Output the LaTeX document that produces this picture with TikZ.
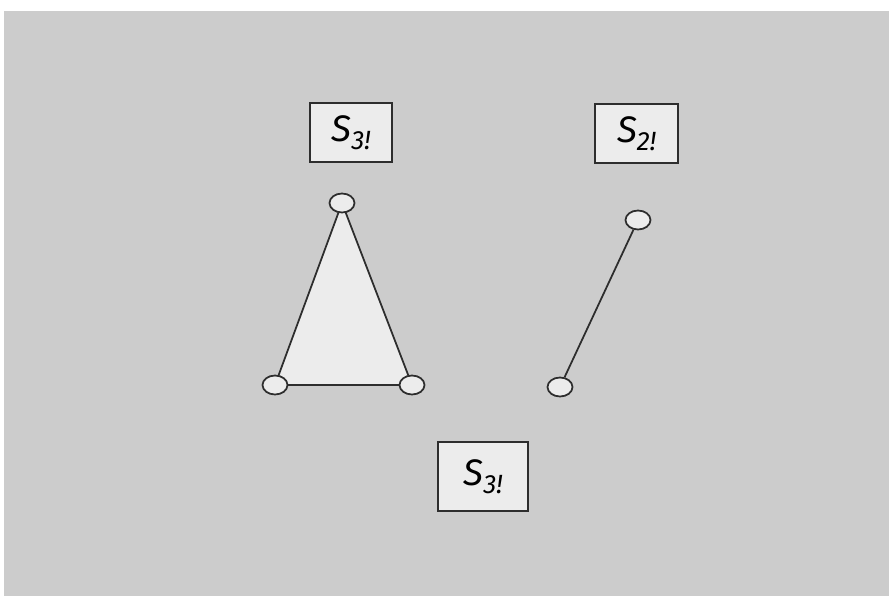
\documentclass[tikz,border=0pt]{standalone}
\usepackage{fontspec}
\setmainfont{Fira Sans}
\usetikzlibrary{shapes.geometric}
\definecolor{paper}{RGB}{204,204,204}
\definecolor{pale}{RGB}{236,236,236}
\definecolor{ink}{RGB}{45,45,45}
\newcommand{\symgrp}[1]{S\raisebox{-0.4ex}{\fontsize{15}{17}\selectfont #1}}
\begin{document}
\begin{tikzpicture}[x=0.02cm, y=-0.02cm,
  lbl/.style={draw=ink, line width=1pt, fill=pale, inner sep=0pt, font=\fontsize{21}{24}\selectfont\itshape},
  vtx/.style={draw=ink, line width=1pt, fill=pale, ellipse, minimum width=0.50cm, minimum height=0.38cm, inner sep=0pt},
  edge/.style={draw=ink, line width=1pt}]
\useasboundingbox (0,0) rectangle (889,599);
\fill[paper] (4,11) rectangle (889,596);
% labels
\node[lbl, minimum width=1.64cm, minimum height=1.18cm] (tri) at (351,132.5) {\symgrp{3!}};
\node[lbl, minimum width=1.66cm, minimum height=1.18cm] (seg) at (636.5,133.5) {\symgrp{2!}};
\node[lbl, minimum width=1.80cm, minimum height=1.38cm] (all) at (483,476.5) {\symgrp{3!}};
% triangle
\coordinate (t) at (342,203);
\coordinate (l) at (275,385);
\coordinate (r) at (412,385);
\filldraw[edge, fill=pale] (t) -- (l) -- (r) -- cycle;
\node[vtx] (a) at (t) {};
\node[vtx] (b) at (l) {};
\node[vtx] (c) at (r) {};
% segment
\node[vtx] (p) at (638,220) {};
\node[vtx] (q) at (560,387) {};
\draw[edge] (p) -- (q);
\end{tikzpicture}
\end{document}
